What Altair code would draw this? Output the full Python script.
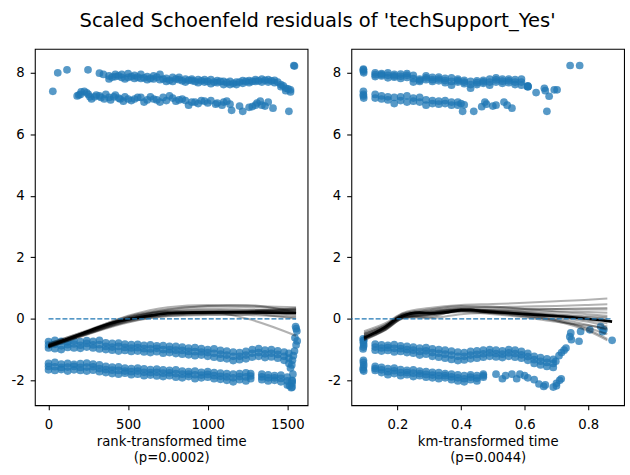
import altair as alt
import pandas as pd

C0 = "#1f77b4"
TITLE = "Scaled Schoenfeld residuals of 'techSupport_Yes'"
Y_TICKS = [-2, 0, 2, 4, 6, 8]
Y_DOMAIN = [-2.81, 8.78]
L_X_TICKS = [0, 500, 1000, 1500]
R_X_TICKS = [0.2, 0.4, 0.6, 0.8]
L_X_DOMAIN = [-86, 1627]
R_X_DOMAIN = [0.055, 0.9125]
L_XTITLE = ["rank-transformed time", "(p=0.0002)"]
R_XTITLE = ["km-transformed time", "(p=0.0044)"]
L_HLINE = [0, 1555]
R_HLINE = [0, 0.875]

# ---------------- left panel: rank-transformed time ----------------
# lower dense band, upper part
L_B1_X = [0, 40, 80, 120, 160, 200, 240, 280, 320, 360, 400, 440, 480, 520, 560, 600, 640, 680, 720, 760,
          800, 840, 880, 920, 960, 1000, 1040, 1080, 1120, 1160, 1200, 1240, 1280, 1320, 1360, 1400, 1440, 1480, 1510]
L_B1_YT = [-0.74, -0.70, -0.73, -0.75, -0.72, -0.74, -0.71, -0.73, -0.70, -0.78, -0.80, -0.79, -0.82, -0.84, -0.83,
           -0.86, -0.85, -0.88, -0.87, -0.90, -0.90, -0.92, -0.95, -0.94, -0.97, -1.00, -0.98, -1.03, -1.05, -1.08,
           -1.10, -1.06, -1.00, -0.97, -1.02, -1.00, -1.04, -1.08, -1.12]
L_B1_YM = [-0.85, -0.83, -0.88, -0.84, -0.82, -0.86, -0.80, -0.85, -0.84, -0.90, -0.92, -0.90, -0.93, -0.95, -0.94,
           -0.97, -0.98, -0.96, -1.00, -1.00, -1.02, -1.03, -1.06, -1.07, -1.08, -1.10, -1.12, -1.15, -1.18, -1.22,
           -1.22, -1.18, -1.12, -1.10, -1.14, -1.12, -1.16, -1.22, -1.28]
L_B1_YB = [-0.95, -0.97, -1.00, -0.93, -0.95, -0.96, -0.92, -0.95, -0.98, -1.00, -1.02, -1.05, -1.03, -1.06, -1.05,
           -1.08, -1.10, -1.07, -1.12, -1.10, -1.13, -1.15, -1.17, -1.20, -1.18, -1.22, -1.25, -1.28, -1.30, -1.36,
           -1.33, -1.30, -1.25, -1.22, -1.26, -1.24, -1.28, -1.35, -1.45]
# lower dense band, lower part
L_B2_X = [0, 40, 80, 120, 160, 200, 240, 280, 320, 360, 400, 440, 480, 520, 560, 600, 640, 680, 720, 760,
          800, 840, 880, 920, 960, 1000, 1040, 1080, 1120, 1160, 1200, 1240, 1270, 1340, 1380, 1420, 1460, 1500, 1530]
L_B2_YT = [-1.45, -1.42, -1.47, -1.45, -1.48, -1.46, -1.44, -1.47, -1.50, -1.55, -1.57, -1.56, -1.60, -1.62, -1.60,
           -1.63, -1.65, -1.64, -1.66, -1.68, -1.66, -1.70, -1.72, -1.70, -1.74, -1.72, -1.75, -1.77, -1.78, -1.80,
           -1.78, -1.76, -1.78, -1.80, -1.82, -1.85, -1.83, -1.90, -2.00]
L_B2_YM = [-1.55, -1.56, -1.58, -1.57, -1.55, -1.58, -1.57, -1.56, -1.62, -1.65, -1.67, -1.68, -1.70, -1.72, -1.70,
           -1.74, -1.75, -1.74, -1.77, -1.76, -1.78, -1.80, -1.80, -1.82, -1.83, -1.81, -1.85, -1.87, -1.89, -1.92,
           -1.88, -1.89, -1.86, -1.89, -1.92, -1.92, -1.94, -2.02, -2.10]
L_B2_YB = [-1.66, -1.68, -1.65, -1.70, -1.66, -1.68, -1.70, -1.67, -1.72, -1.75, -1.78, -1.80, -1.77, -1.82, -1.80,
           -1.85, -1.83, -1.86, -1.88, -1.85, -1.90, -1.92, -1.88, -1.95, -1.92, -1.90, -1.95, -1.97, -2.00, -2.05,
           -1.98, -2.02, -1.95, -1.98, -2.02, -2.00, -2.05, -2.15, -2.22]
L_SPIKE_X = [1552, 1556, 1560, 1562, 1555, 1545, 1538, 1532, 1528, 1520, 1535, 1530, 1515, 1525, 1548]
L_SPIKE_Y = [-0.25, -0.32, -0.40, -0.72, -0.85, -1.05, -1.20, -1.35, -1.50, -1.60, -1.80, -2.02, -2.18, -2.24, -0.62]
# upper residual band, top row
L_T1_X = [58, 116, 248, 320, 345, 380, 420, 460, 500, 540, 580, 620, 660, 700, 740, 780, 820, 860, 900, 940, 980,
          1020, 1060, 1100, 1140, 1180, 1220, 1260, 1300, 1340, 1380, 1420, 1460, 1490, 1520, 1541, 1545]
L_T1_Y = [8.00, 8.10, 8.10, 7.99, 7.95, 7.90, 7.88, 7.95, 7.85, 7.92, 7.82, 7.88, 7.80, 7.95, 7.72, 7.85, 7.78, 7.80,
          7.75, 7.78, 7.70, 7.78, 7.68, 7.72, 7.62, 7.70, 7.66, 7.75, 7.72, 7.80, 7.70, 7.76, 7.62, 7.50, 7.45, 8.24, 8.22]
L_T1B_X = [380, 420, 460, 500, 540, 580, 620, 660, 700, 740, 780, 820, 860, 900, 940, 980, 1020, 1060, 1100, 1140,
           1180, 1220, 1260, 1300, 1340, 1380, 1420, 1460, 1490, 1520]
L_T1B_Y = [7.80, 7.95, 7.85, 7.98, 7.82, 7.95, 7.78, 7.90, 7.78, 7.82, 7.72, 7.85, 7.70, 7.80, 7.68, 7.78, 7.65,
           7.75, 7.62, 7.72, 7.62, 7.75, 7.68, 7.78, 7.70, 7.78, 7.68, 7.55, 7.42, 7.38]
L_T1C_X = [400, 440, 480, 520, 560, 600, 640, 680, 720, 760, 800, 840, 880, 920, 960, 1000, 1040, 1080, 1120, 1160,
           1200, 1240, 1280, 1320, 1360, 1400, 1440, 1475, 1505]
L_T1C_Y = [7.86, 7.90, 7.80, 7.88, 7.86, 7.84, 7.82, 7.86, 7.80, 7.76, 7.80, 7.74, 7.76, 7.72, 7.74, 7.72, 7.70,
           7.72, 7.68, 7.66, 7.70, 7.72, 7.72, 7.74, 7.76, 7.74, 7.70, 7.58, 7.48]
# upper residual band, bottom row
L_T2_X = [27, 180, 205, 225, 250, 270, 300, 330, 360, 390, 420, 450, 480, 520, 560, 600, 640, 680, 720, 760, 800,
          840, 880, 920, 960, 1000, 1050, 1100, 1150, 1220, 1280, 1310, 1340, 1380, 1410, 1510]
L_T2_Y = [7.40, 7.25, 7.38, 7.40, 7.30, 7.15, 7.28, 7.20, 7.30, 7.12, 7.28, 7.15, 7.22, 7.10, 7.20, 7.05, 7.22,
          7.12, 7.20, 7.25, 7.08, 7.15, 6.95, 7.05, 7.10, 7.02, 6.98, 7.05, 6.78, 6.75, 6.90, 7.02, 6.95, 7.05, 6.85, 6.75]
L_T2B_X = [190, 240, 290, 350, 410, 470, 540, 620, 700, 780, 860, 940, 1020, 1090, 1120, 1300, 1330, 1360]
L_T2B_Y = [7.28, 7.35, 7.22, 7.15, 7.22, 7.08, 7.15, 7.12, 7.05, 7.18, 7.10, 7.00, 7.10, 6.95, 7.08, 6.95, 7.08, 6.92]
L_T2C_X = [200, 260, 320, 380, 440, 500, 580, 660, 740, 820, 900, 980, 1060, 1140, 1200, 1260]
L_T2C_Y = [7.30, 7.22, 7.25, 7.20, 7.18, 7.15, 7.20, 7.15, 7.10, 7.12, 7.05, 7.08, 7.02, 6.98, 6.92, 6.88]

# lowess fit and bootstrap fits (left)
L_MAIN_X = [0, 100, 200, 330, 440, 540, 650, 750, 900, 1100, 1300, 1450, 1555]
L_MAIN_Y = [-0.89, -0.70, -0.50, -0.25, -0.08, 0.02, 0.11, 0.18, 0.20, 0.21, 0.21, 0.20, 0.19]
L_BOOT_X = [0, 250, 500, 750, 1000, 1250, 1555]
L_BOOT_Y = [
    [-0.85, -0.40, 0.05, 0.30, 0.40, 0.38, 0.30],
    [-0.90, -0.45, -0.02, 0.18, 0.22, 0.25, 0.35],
    [-0.80, -0.38, 0.10, 0.38, 0.45, 0.42, 0.38],
    [-0.92, -0.48, -0.10, 0.10, 0.15, 0.12, 0.05],
    [-0.88, -0.42, 0.00, 0.22, 0.22, 0.00, -0.55],
    [-0.86, -0.46, -0.05, 0.15, 0.20, 0.25, 0.28],
    [-0.94, -0.50, -0.12, 0.08, 0.12, 0.15, 0.22],
    [-0.82, -0.36, 0.08, 0.32, 0.42, 0.45, 0.20],
    [-0.90, -0.44, 0.02, 0.25, 0.28, 0.22, 0.10],
    [-0.87, -0.43, -0.03, 0.20, 0.25, 0.28, 0.32],
    [-0.91, -0.47, -0.06, 0.14, 0.18, 0.20, 0.15],
    [-0.84, -0.40, 0.04, 0.26, 0.33, 0.30, 0.25],
    [-0.89, -0.41, 0.03, 0.24, 0.24, 0.18, 0.00],
    [-0.86, -0.44, -0.01, 0.19, 0.22, 0.24, 0.26],
    [-0.93, -0.49, -0.08, 0.12, 0.18, 0.22, 0.30],
]

# ---------------- right panel: km-transformed time ----------------
R_B1_X = [0.092, 0.093, 0.093, 0.094, 0.093, 0.092, 0.094]
R_B1_Y = [-0.65, -0.72, -0.78, -0.85, -0.92, -0.98, -0.70]
R_B1D_X = [0.13, 0.15, 0.17, 0.19, 0.21, 0.23, 0.25, 0.27, 0.29, 0.31, 0.33, 0.35, 0.37, 0.39, 0.41, 0.43, 0.45,
           0.47, 0.49, 0.51, 0.53, 0.55, 0.57, 0.59, 0.61, 0.63, 0.65, 0.67, 0.69]
R_B1D_YT = [-0.82, -0.85, -0.86, -0.84, -0.88, -0.90, -0.92, -0.95, -0.94, -0.98, -1.00, -1.02, -1.05, -1.08, -1.10,
            -1.06, -1.04, -1.02, -1.00, -1.02, -1.04, -1.00, -1.02, -1.06, -1.12, -1.22, -1.26, -1.30, -1.32]
R_B1D_YM = [-0.92, -0.95, -0.94, -0.96, -0.97, -1.00, -1.02, -1.06, -1.04, -1.10, -1.12, -1.15, -1.18, -1.22, -1.22,
            -1.18, -1.16, -1.14, -1.11, -1.13, -1.15, -1.11, -1.13, -1.17, -1.23, -1.33, -1.38, -1.42, -1.45]
R_B1D_YB = [-1.02, -1.05, -1.03, -1.08, -1.06, -1.10, -1.12, -1.18, -1.15, -1.22, -1.25, -1.28, -1.32, -1.36, -1.34,
            -1.30, -1.28, -1.25, -1.22, -1.24, -1.26, -1.22, -1.25, -1.28, -1.35, -1.45, -1.50, -1.55, -1.58]
R_TAIL_X = [0.698, 0.708, 0.716, 0.724, 0.730, 0.745, 0.747, 0.742, 0.771, 0.776, 0.805, 0.839, 0.849, 0.845, 0.875]
R_TAIL_Y = [-1.38, -1.20, -1.10, -1.02, -0.95, -0.46, -0.68, -0.58, -0.73, -0.41, -0.36, -0.25, -0.36, -0.42, -0.70]
R_B2_X = [0.093, 0.093, 0.094, 0.093, 0.092, 0.094]
R_B2_Y = [-1.35, -1.42, -1.50, -1.58, -1.65, -1.70]
R_B2D_X = [0.13, 0.15, 0.17, 0.19, 0.21, 0.23, 0.25, 0.27, 0.29, 0.31, 0.33, 0.35, 0.37, 0.39, 0.41, 0.43, 0.45, 0.47]
R_B2D_YT = [-1.55, -1.58, -1.62, -1.60, -1.65, -1.68, -1.66, -1.70, -1.72, -1.74, -1.75, -1.78, -1.80, -1.82, -1.85,
            -1.82, -1.85, -1.80]
R_B2D_YM = [-1.62, -1.66, -1.72, -1.69, -1.75, -1.75, -1.77, -1.78, -1.81, -1.83, -1.85, -1.85, -1.89, -1.92, -1.95,
            -1.90, -1.93, -1.85]
R_B2D_YB = [-1.68, -1.75, -1.82, -1.78, -1.85, -1.82, -1.88, -1.85, -1.90, -1.92, -1.95, -1.92, -1.98, -2.02, -2.05,
            -1.98, -2.02, -1.90]
R_B2T_X = [0.51, 0.53, 0.54, 0.56, 0.575, 0.585, 0.60, 0.61, 0.63, 0.645, 0.66, 0.665, 0.69, 0.70, 0.71, 0.715, 0.70]
R_B2T_Y = [-1.80, -1.95, -1.85, -1.80, -1.95, -1.80, -1.85, -1.92, -1.98, -2.12, -2.20, -2.15, -2.22, -2.10, -2.00,
           -1.95, -2.18]
R_T1_X = [0.093, 0.093, 0.094, 0.093, 0.61, 0.636, 0.662, 0.665, 0.677, 0.670, 0.693, 0.702, 0.743, 0.773]
R_T1_Y = [8.10, 8.05, 8.00, 8.12, 7.55, 7.36, 7.50, 7.42, 7.24, 6.75, 7.45, 7.45, 8.24, 8.24]
R_T1D_X = [0.13, 0.15, 0.17, 0.19, 0.21, 0.23, 0.25, 0.27, 0.29, 0.31, 0.33, 0.35, 0.37, 0.39, 0.41, 0.43, 0.45,
           0.47, 0.49, 0.51, 0.53, 0.55, 0.57, 0.59, 0.61]
R_T1D_YT = [8.00, 7.98, 8.00, 7.95, 7.96, 7.98, 7.92, 7.80, 7.90, 7.85, 7.86, 7.82, 7.84, 7.80, 7.76, 7.72, 7.74,
            7.76, 7.80, 7.84, 7.80, 7.80, 7.78, 7.80, 7.58]
R_T1D_YM = [7.94, 7.94, 7.92, 7.90, 7.89, 7.92, 7.81, 7.76, 7.84, 7.78, 7.80, 7.75, 7.72, 7.75, 7.70, 7.62, 7.68,
            7.71, 7.70, 7.77, 7.73, 7.74, 7.70, 7.70, 7.56]
R_T1D_YB = [7.88, 7.90, 7.84, 7.86, 7.82, 7.85, 7.70, 7.72, 7.78, 7.72, 7.74, 7.68, 7.60, 7.70, 7.65, 7.50, 7.62,
            7.66, 7.60, 7.70, 7.66, 7.68, 7.62, 7.60, 7.55]
R_T2_X = [0.093, 0.093, 0.094, 0.093, 0.40, 0.405, 0.41, 0.44, 0.465, 0.475, 0.48, 0.50, 0.51, 0.535, 0.545, 0.56]
R_T2_Y = [7.40, 7.30, 7.18, 7.25, 7.00, 6.75, 6.96, 6.75, 6.90, 7.05, 6.98, 6.92, 6.95, 7.05, 6.95, 6.85]
R_T2D_X = [0.13, 0.15, 0.17, 0.19, 0.21, 0.23, 0.25, 0.27, 0.29, 0.31, 0.33, 0.35, 0.37, 0.39]
R_T2D_YT = [7.30, 7.25, 7.22, 7.20, 7.22, 7.25, 7.18, 7.20, 7.12, 7.10, 7.08, 7.10, 7.05, 7.05]
R_T2D_YB = [7.18, 7.15, 7.12, 7.00, 7.10, 7.05, 7.08, 7.05, 6.95, 7.00, 6.98, 7.00, 6.95, 6.95]

R_MAIN_X = [0.095, 0.13, 0.16, 0.19, 0.215, 0.24, 0.27, 0.31, 0.35, 0.40, 0.43, 0.47, 0.55, 0.65, 0.75, 0.875]
R_MAIN_Y = [-0.62, -0.45, -0.28, -0.05, 0.08, 0.17, 0.20, 0.18, 0.21, 0.28, 0.29, 0.24, 0.19, 0.12, 0.05, -0.09]
R_BOOT_X = [0.095, 0.16, 0.22, 0.30, 0.40, 0.50, 0.60, 0.70, 0.80, 0.86]
R_BOOT_Y = [
    [-0.40, -0.15, 0.20, 0.35, 0.45, 0.48, 0.52, 0.57, 0.62, 0.66],
    [-0.55, -0.28, 0.12, 0.22, 0.35, 0.38, 0.40, 0.42, 0.45, 0.47],
    [-0.60, -0.30, 0.08, 0.18, 0.30, 0.30, 0.30, 0.32, 0.34, 0.35],
    [-0.65, -0.35, 0.05, 0.15, 0.28, 0.22, 0.18, 0.12, 0.05, 0.00],
    [-0.50, -0.22, 0.15, 0.25, 0.32, 0.26, 0.20, 0.10, -0.05, -0.15],
    [-0.70, -0.38, 0.02, 0.10, 0.25, 0.20, 0.10, -0.05, -0.30, -0.50],
    [-0.58, -0.30, 0.10, 0.05, 0.30, 0.25, 0.15, 0.00, -0.20, -0.35],
    [-0.45, -0.20, 0.18, 0.30, 0.42, 0.40, 0.32, 0.25, 0.22, 0.20],
    [-0.62, -0.32, 0.06, 0.02, 0.15, 0.20, 0.12, -0.05, -0.35, -0.65],
    [-0.52, -0.26, 0.14, 0.20, 0.30, 0.28, 0.22, 0.15, 0.08, 0.05],
    [-0.66, -0.36, 0.04, 0.14, 0.25, 0.22, 0.15, 0.05, -0.10, -0.25],
    [-0.48, -0.22, 0.16, 0.28, 0.38, 0.36, 0.33, 0.32, 0.30, 0.30],
    [-0.56, -0.28, 0.10, 0.16, 0.28, 0.18, 0.08, -0.08, -0.40, -0.70],
    [-0.60, -0.32, 0.08, 0.22, 0.30, 0.27, 0.25, 0.22, 0.15, 0.10],
    [-0.68, -0.38, 0.03, 0.12, 0.22, 0.15, 0.05, -0.10, -0.22, -0.30],
]


def pts(xs, *ylists):
    out = []
    for ys in ylists:
        out += [{"x": a, "y": b} for a, b in zip(xs, ys)]
    return out


left_points = (pts(L_B1_X, L_B1_YT, L_B1_YM, L_B1_YB) + pts(L_B2_X, L_B2_YT, L_B2_YM, L_B2_YB)
               + pts(L_SPIKE_X, L_SPIKE_Y) + pts(L_T1_X, L_T1_Y) + pts(L_T1B_X, L_T1B_Y) + pts(L_T1C_X, L_T1C_Y)
               + pts(L_T2_X, L_T2_Y) + pts(L_T2B_X, L_T2B_Y) + pts(L_T2C_X, L_T2C_Y))
right_points = (pts(R_B1_X, R_B1_Y) + pts(R_B1D_X, R_B1D_YT, R_B1D_YM, R_B1D_YB) + pts(R_TAIL_X, R_TAIL_Y)
                + pts(R_B2_X, R_B2_Y) + pts(R_B2D_X, R_B2D_YT, R_B2D_YM, R_B2D_YB) + pts(R_B2T_X, R_B2T_Y)
                + pts(R_T1_X, R_T1_Y) + pts(R_T1D_X, R_T1D_YT, R_T1D_YM, R_T1D_YB) + pts(R_T2_X, R_T2_Y)
                + pts(R_T2D_X, R_T2D_YT, R_T2D_YB))

MINUS = "\u2212"


def panel(points, main_x, main_y, boot_x, boot_ys, hline, xdom, xticks, xfmt, xtitle):
    xs = alt.Scale(domain=xdom, nice=False, zero=False)
    ys = alt.Scale(domain=Y_DOMAIN, nice=False, zero=False)
    xax = alt.Axis(values=xticks, format=xfmt, title=xtitle, titleLineHeight=16, titlePadding=4, labelPadding=7.5)
    yax = alt.Axis(values=Y_TICKS, format="d", title=None, labelPadding=6,
                   labelExpr="replace(datum.label, '" + MINUS + "', '-')")
    dots = alt.Chart(pd.DataFrame(points)).mark_circle(size=60, opacity=0.75, color=C0, clip=True).encode(
        x=alt.X("x:Q", scale=xs, axis=xax), y=alt.Y("y:Q", scale=ys, axis=yax))
    main_df = pd.DataFrame({"x": main_x, "y": main_y})
    main = alt.Chart(main_df).mark_line(color="black", strokeWidth=2.67, interpolate="monotone", clip=True).encode(
        x="x:Q", y="y:Q")
    brows = []
    for i, yv in enumerate(boot_ys):
        brows += [{"x": a, "y": b, "id": i} for a, b in zip(boot_x, yv)]
    boots = alt.Chart(pd.DataFrame(brows)).mark_line(color="black", opacity=0.3, strokeWidth=2,
                                                     interpolate="monotone", clip=True).encode(
        x="x:Q", y="y:Q", detail="id:N", order="x:Q")
    rule_df = pd.DataFrame({"x0": [hline[0]], "x1": [hline[1]], "y0": [0]})
    rule = alt.Chart(rule_df).mark_rule(color=C0, strokeWidth=1.33, strokeDash=[5, 2], clip=True).encode(
        x="x0:Q", x2="x1:Q", y="y0:Q")
    return alt.layer(dots, main, boots, rule).properties(width=274, height=358)


left = panel(left_points, L_MAIN_X, L_MAIN_Y, L_BOOT_X, L_BOOT_Y, L_HLINE, L_X_DOMAIN, L_X_TICKS, "d", L_XTITLE)
right = panel(right_points, R_MAIN_X, R_MAIN_Y, R_BOOT_X, R_BOOT_Y, R_HLINE, R_X_DOMAIN, R_X_TICKS, ".1f", R_XTITLE)

chart = alt.hconcat(left, right, spacing=18).properties(
    title=alt.TitleParams(TITLE, fontSize=19.6, font="DejaVu Sans", fontWeight="normal", color="black",
                          anchor="middle", offset=17),
    padding={"left": 10, "top": 9, "right": 5, "bottom": 5},
).configure_view(stroke="black", strokeWidth=1.07).configure_axis(
    labelFont="DejaVu Sans", labelFontSize=13.3, labelColor="black",
    titleFont="DejaVu Sans", titleFontSize=13.3, titleFontWeight="normal", titleColor="black",
    tickColor="black", tickWidth=1.07, tickSize=4.67, grid=False, domain=False,
)

chart.save("out.html", embed_options={"renderer": "svg", "actions": False})
